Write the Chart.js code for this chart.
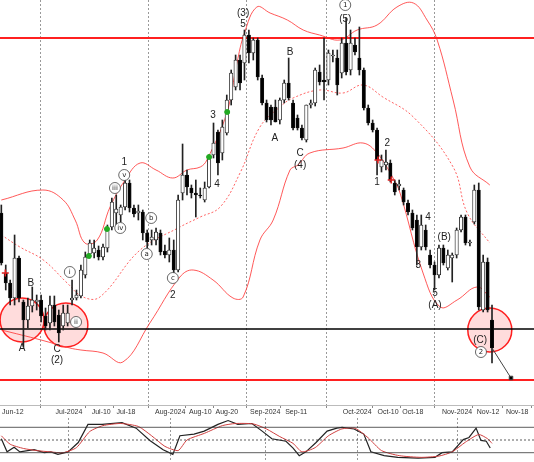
<!DOCTYPE html>
<html><head><meta charset="utf-8">
<script src="https://cdn.jsdelivr.net/npm/chart.js@4.4.0/dist/chart.umd.min.js"></script>
<style>html,body{margin:0;padding:0;background:#fff;overflow:hidden}
#w1{position:absolute;left:0;top:0;width:534px;height:418px}
#w2{position:absolute;left:0;top:418px;width:534px;height:44px}</style>
</head><body>
<div id="w1"><canvas id="c1"></canvas></div>
<div id="w2"><canvas id="c2"></canvas></div>
<script>
// price values (chart units, top = 0)
const opens =[213,273,283,298,258,302,320,306,302,300,316,323,305,315,326,323,300,298,296,275,254,253,250,257,248,227,213,215,207,183,208,213,212,233,240,240,233,251,255,250,270,193,175,188,193,195,200,187,155,132,153,133,100,87,60,63,35,53,40,78,103,107,107,120,100,83,103,118,128,140,105,103,72,80,80,56,58,73,43,70,45,58,70,108,123,130,167,165,163,183,186,190,203,213,220,247,230,255,265,275,248,268,258,255,230,217,243,222,190,310,262,320];
const highs =[205,265,280,235,256,300,298,287,295,295,308,296,296,310,305,305,280,290,265,252,240,240,246,244,225,198,195,205,180,180,205,205,210,230,230,228,230,245,238,240,195,144,170,185,180,188,182,155,123,130,120,95,70,55,55,30,30,38,38,75,100,105,100,98,80,58,100,115,125,105,100,68,65,38,50,50,50,38,18,30,38,27,68,105,120,128,155,150,160,180,180,188,200,210,215,215,225,250,262,245,245,250,253,228,215,215,240,185,183,255,258,305];
const lows  =[265,290,305,305,302,347,328,312,310,322,330,330,326,342,330,326,305,300,298,278,258,258,260,260,252,230,225,222,210,212,217,220,240,248,245,245,255,258,262,275,272,200,195,198,217,198,202,188,158,175,160,135,105,90,90,80,63,60,80,105,122,125,122,124,103,100,130,130,140,142,108,106,85,100,85,62,95,78,75,75,55,75,110,125,132,175,172,170,182,195,190,205,215,230,265,250,250,268,290,278,265,270,282,258,232,245,246,224,310,312,312,363];
const closes=[263,283,298,258,298,320,306,300,300,316,326,305,322,333,313,313,298,295,270,257,243,248,257,247,230,202,209,207,183,208,214,211,233,242,237,232,252,255,250,270,200,175,187,193,195,196,188,157,143,163,127,100,73,60,83,35,53,40,77,103,120,120,122,100,83,98,128,128,138,105,103,70,82,82,53,55,85,43,72,43,52,70,108,123,130,160,160,162,180,192,184,202,212,228,247,225,247,265,275,248,263,255,255,230,217,243,242,190,307,262,310,348];

const tickIdx   =[2.6,15.3,22.6,28.2,38.2,45,51,59.7,66.7,80.5,87.5,93.1,103.1,110.1,116.7];
const tickLabels=["Jun-12","Jul-2024","Jul-10","Jul-18","Aug-2024","Aug-10","Aug-20","Sep-2024","Sep-11","Oct-2024","Oct-10","Oct-18","Nov-2024","Nov-12","Nov-18"];
const monthStart=["Jul-2024","Aug-2024","Sep-2024","Oct-2024","Nov-2024"];

const upperX=[0,9.4,14,16.7,18.9,21.7,24.6,28,31.4,35,38.8,42,45,46.5,51,53.3,55,57.8,60.8,64.7,68.3,72,76.6,80.5,85,89.5,93.2,96.3,98.6,102.2,106,110.5];
const upperY=[200,190,200,220,243,240,207,180,163,170,178,170,167,160,113,63,33,7,13,20,30,35,40,30,25,7,3,20,40,100,167,185];
const midX=[0,4.2,9.5,14.9,18.5,22.3,31.4,40.4,45,49.5,54,58.5,63,66,72,77.3,81.8,86.3,93.2,102.2,105.4,110.5];
const midY=[235,247,260,283,297,297,250,227,217,207,173,127,107,98,90,93,85,97,117,167,213,243];
const lowX=[0,9,15.5,18,23,27.5,33.6,40.4,43.4,47.9,52.4,54.7,58.5,61.5,65.3,67.1,69.8,77.3,81.8,85,88.5,90.2,95.4,99.3,103.1,107.6,110.5];
const lowY=[330,340,348,350,353,362,323,277,270,280,298,297,240,220,170,165,153,148,143,153,177,193,273,307,300,287,297];

const levelY=[38,329,380];
const levelColor=['#ff2020','#000000','#ff2020'];
const circX=[4.7,14.6,110.5], circY=[320,325,330];
const greenX=[19.8,23.9,47,51.1], greenY=[256,229,157,112];
const crossX=[0.9,85.2,88.2], crossY=[273,160,180];
const arrowX=[111,115.3], arrowY=[348,378];

const labX=[54.7,54.7,77.8,77.8,65.3,61.9,67.6,67.6,27.8,27.8,25.7,26.9,33.9,32.9,38.8,38.8,47.9,48.8,15.5,16.9,6.7,4.7,12.6,12.6,85,87.3,96.5,94.3,98.1,98.1,100.2,108.3,108.5];
const labY=[13,24,5,19,52,138,153,165,162,175,188,228,218,254,278,295,115,184,272,322,283,348,349,360,182,143,217,265,293,305,237,340,352];
const labT=['(3)','5','1','(5)','B','A','C','(4)','1','v','iii','iv','b','a','c','2','3','4','i','ii','B','A','C','(2)','1','2','4','3','5','(A)','(B)','(C)','2'];
const labCirc=[0,0,1,0,0,0,0,0,0,1,1,1,1,1,1,0,0,0,1,1,0,0,0,0,0,0,0,0,0,0,0,0,1];

const stochKX=[0,1.3,2.9,4.2,7.4,9.7,11.2,12.8,15.1,17.4,19.6,22.8,27.3,30.5,33.6,36.6,38.8,40.4,43.6,45.9,49,51.3,53.5,56.7,59,61.2,64.4,66,67.4,68.9,71.2,73.7,75.9,77.1,79.8,82,83.6,86.6,89.7,94.3,98.1,99.7,102,104.5,105.8,107.4,108.5,109.7,110.6];
const stochK =[53,22,33,22,27,20,22,16,22,44,87,87,91,78,49,27,16,60,64,71,87,96,87,89,71,53,47,31,13,22,44,71,78,80,76,64,22,13,9,7,9,20,22,51,56,78,49,47,31];
const stochDX=[0,2,5,8,11,14,17,20,23,27,31,34,37,40,42,46,50,53,57,60,63,66,68,71,74,77,80,83,86,90,95,99,102,105,108,110,111];
const stochD =[60,40,30,25,22,20,32,70,84,89,82,60,35,25,50,66,84,89,88,76,58,42,22,32,60,76,78,55,25,13,9,12,22,45,63,53,42];

const XMIN=-0.3, XMAX=120.5;
const pts=(xs,ys)=>xs.map((x,i)=>({x,y:ys[i]}));

const wicks=opens.map((o,i)=>({x:i,y:[highs[i],lows[i]]}));
const bodies=opens.map((o,i)=>({x:i,y:[o,closes[i]===o?o+0.8:closes[i]]}));
const bodyColors=opens.map((o,i)=>closes[i]<o?'#ffffff':'#000000');

const annot={id:'annot',afterDatasetsDraw(ch){
  const c=ch.ctx,xs=ch.scales.x,ys=ch.scales.y;
  c.save();c.textAlign='center';c.textBaseline='middle';
  labT.forEach((t,i)=>{
    const px=xs.getPixelForValue(labX[i]),py=ys.getPixelForValue(labY[i]);
    if(labCirc[i]){
      c.beginPath();c.arc(px,py,5.5,0,Math.PI*2);c.fillStyle='#fff';c.fill();
      c.strokeStyle='#444';c.lineWidth=0.8;c.stroke();
      c.font='7px "DejaVu Sans"';c.fillStyle='#222';c.fillText(t,px,py+0.5);
    }else{c.font='10px "Liberation Sans"';c.fillStyle='#222';c.fillText(t,px,py);}
  });
  c.restore();}};

const vgrid=c=>monthStart.includes(tickLabels[c.index])?'#999':'rgba(0,0,0,0)';

new Chart(document.getElementById('c1'),{
  data:{datasets:[
    {type:'line',data:pts(upperX,upperY),borderColor:'rgba(255,60,60,0.85)',borderWidth:1,pointRadius:0,tension:0.4,order:5},
    {type:'line',data:pts(midX,midY),borderColor:'rgba(255,60,60,0.8)',borderWidth:1,borderDash:[2,2],pointRadius:0,tension:0.4,order:5},
    {type:'line',data:pts(lowX,lowY),borderColor:'rgba(255,60,60,0.85)',borderWidth:1,pointRadius:0,tension:0.4,order:5},
    ...levelY.map((v,k)=>({type:'line',data:[{x:XMIN,y:v},{x:XMAX,y:v}],borderColor:levelColor[k],borderWidth:k===1?1.3:2,pointRadius:0,order:4})),
    {type:'bubble',data:circX.map((x,i)=>({x,y:circY[i],r:22})),backgroundColor:'rgba(255,80,80,0.2)',borderColor:'#ff2020',borderWidth:1.5,order:6},
    {type:'bar',data:wicks,backgroundColor:'#222',barThickness:1,grouped:false,order:2},
    {type:'bar',data:bodies,backgroundColor:bodyColors,borderColor:'#111',borderWidth:0.8,borderSkipped:false,barThickness:3.4,grouped:false,order:1},
    {type:'scatter',data:pts(greenX,greenY),pointStyle:'circle',radius:2.5,backgroundColor:'#22aa22',borderColor:'#22aa22',order:0},
    {type:'scatter',data:pts(crossX,crossY),pointStyle:'cross',radius:3.5,borderColor:'#e02020',borderWidth:1.5,order:0},
    {type:'line',data:pts(arrowX,arrowY),borderColor:'#444',borderWidth:1,pointRadius:[0,2.5],pointStyle:'rect',pointBackgroundColor:'#000',order:0}
  ]},
  options:{responsive:true,maintainAspectRatio:false,animation:false,
    layout:{padding:0,autoPadding:false},
    plugins:{legend:{display:false},tooltip:{enabled:false}},
    scales:{
      x:{type:'linear',min:XMIN,max:XMAX,offset:false,
        afterBuildTicks:s=>{s.ticks=tickIdx.map(v=>({value:v}));},
        afterFit:s=>{s.height=13;s.paddingLeft=0;s.paddingRight=0;},
        ticks:{autoSkip:false,maxRotation:0,padding:0,font:{size:7,family:'Liberation Sans'},color:'#333',
          callback:(v,i)=>tickLabels[i]},
        grid:{drawTicks:true,tickLength:3,tickColor:'#888',color:vgrid,lineWidth:1},
        border:{display:true,color:'#bbb',dash:[2,2]}
      },
      y:{display:false,reverse:true,min:0,max:405}
    }
  },plugins:[annot]
});

new Chart(document.getElementById('c2'),{
  data:{datasets:[
    {type:'line',data:[{x:XMIN,y:80},{x:XMAX,y:80}],borderColor:'#333',borderWidth:0.8,pointRadius:0},
    {type:'line',data:[{x:XMIN,y:20},{x:XMAX,y:20}],borderColor:'#333',borderWidth:0.8,pointRadius:0},
    {type:'line',data:[{x:XMIN,y:50},{x:XMAX,y:50}],borderColor:'#333',borderWidth:0.8,borderDash:[2,2],pointRadius:0},
    {type:'line',data:pts(stochDX,stochD),borderColor:'#d04040',borderWidth:1,pointRadius:0,tension:0.2},
    {type:'line',data:pts(stochKX,stochK),borderColor:'#222',borderWidth:1.2,pointRadius:0}
  ]},
  options:{responsive:true,maintainAspectRatio:false,animation:false,layout:{padding:0,autoPadding:false},
    plugins:{legend:{display:false},tooltip:{enabled:false}},
    scales:{
      x:{type:'linear',min:XMIN,max:XMAX,display:true,
        afterBuildTicks:s=>{s.ticks=tickIdx.map(v=>({value:v}));},
        afterFit:s=>{s.height=0;s.paddingLeft=0;s.paddingRight=0;},
        ticks:{display:false},
        grid:{drawTicks:false,color:vgrid},
        border:{display:true,color:'#888',dash:[2,2]}},
      y:{display:false,min:-2,max:102}
    }
  }
});
</script>
</body></html>
